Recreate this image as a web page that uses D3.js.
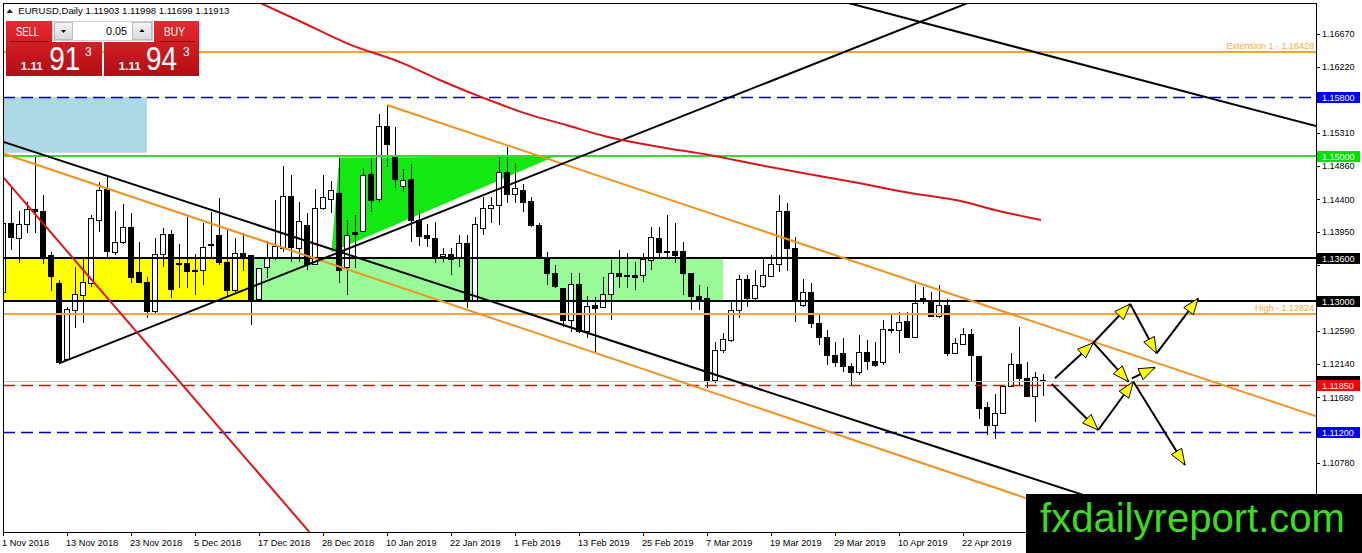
<!DOCTYPE html>
<html><head><meta charset="utf-8">
<script src="https://cdn.jsdelivr.net/npm/d3@7"></script>
<style>
html,body{margin:0;padding:0;background:#fff;overflow:hidden}
svg{display:block}
text{font-family:"Liberation Sans",Arial,sans-serif}
</style></head><body>
<svg id="c" width="1362" height="553"></svg>
<script>
// ---------- DATA ----------
const symbol = "EURUSD,Daily";
const open = [1.13118,1.14071,1.13865,1.14057,1.14263,1.14240,1.13627,1.13238,1.12204,1.12871,1.13077,1.13247,1.14116,1.14538,1.13673,1.13811,1.14016,1.13398,1.13261,1.12867,1.13646,1.13920,1.13499,1.13522,1.13430,1.13430,1.13760,1.13906,1.13536,1.13146,1.13660,1.13636,1.13032,1.13458,1.13591,1.13719,1.14446,1.13728,1.14048,1.13509,1.14277,1.14401,1.14483,1.13462,1.13942,1.13956,1.14748,1.14401,1.15407,1.14986,1.14583,1.14666,1.14116,1.13910,1.13865,1.13609,1.13646,1.13591,1.13797,1.13018,1.14002,1.14277,1.14322,1.14766,1.14460,1.14528,1.14368,1.14048,1.13591,1.13385,1.13179,1.12743,1.13234,1.12583,1.12936,1.12918,1.13087,1.13385,1.13348,1.13348,1.13348,1.13559,1.13865,1.13691,1.13691,1.13691,1.13385,1.13073,1.13041,1.11910,1.12322,1.12469,1.12871,1.13303,1.13041,1.13201,1.13338,1.13499,1.14240,1.13728,1.12949,1.13118,1.12698,1.12506,1.12263,1.12286,1.12103,1.12020,1.12294,1.12171,1.12162,1.12615,1.12596,1.12720,1.12500,1.13036,1.13018,1.12789,1.12949,1.12286,1.12414,1.12551,1.12249,1.11545,1.11302,1.11462,1.11837,1.12139,1.11943,1.11700,1.11903];
const high = [1.14230,1.14552,1.14240,1.14368,1.14986,1.14460,1.13682,1.13293,1.12926,1.13476,1.13613,1.14185,1.14642,1.14711,1.14244,1.14336,1.14208,1.13819,1.13338,1.13865,1.14002,1.13979,1.13787,1.14162,1.13650,1.14079,1.14230,1.14414,1.13979,1.13865,1.13942,1.13636,1.13458,1.13833,1.14391,1.14862,1.14734,1.14368,1.14208,1.14542,1.14734,1.14652,1.14964,1.14116,1.14185,1.14827,1.14964,1.15572,1.15686,1.15397,1.14817,1.14886,1.14254,1.14057,1.14093,1.13728,1.13728,1.13910,1.13910,1.14162,1.14436,1.14436,1.14986,1.15123,1.14895,1.14607,1.14436,1.14079,1.13682,1.13499,1.13179,1.13385,1.13394,1.13073,1.13064,1.13330,1.13568,1.13705,1.13660,1.13544,1.13660,1.14016,1.14025,1.14185,1.14071,1.13819,1.13385,1.13224,1.13192,1.12446,1.12569,1.12995,1.13362,1.13362,1.13430,1.13577,1.13636,1.14460,1.14354,1.13887,1.13303,1.13247,1.12844,1.12606,1.12446,1.12493,1.12149,1.12537,1.12469,1.12446,1.12743,1.12812,1.12858,1.12858,1.13238,1.13201,1.13132,1.13224,1.13027,1.12493,1.12629,1.12615,1.12249,1.11622,1.11727,1.11851,1.12286,1.12651,1.12171,1.12034,1.11998];
const low = [1.13087,1.13705,1.13522,1.13934,1.13934,1.13513,1.13146,1.12149,1.12195,1.12629,1.12698,1.13201,1.13956,1.13577,1.13636,1.13787,1.13256,1.13247,1.12767,1.12812,1.13476,1.13041,1.13179,1.13179,1.13087,1.13224,1.13613,1.13499,1.13063,1.13132,1.13421,1.12675,1.12995,1.13325,1.13568,1.13682,1.13544,1.13544,1.13430,1.13499,1.14254,1.14217,1.13247,1.13087,1.13454,1.13947,1.14222,1.14368,1.14849,1.14560,1.14497,1.13819,1.13764,1.13750,1.13522,1.13544,1.13362,1.13476,1.12904,1.13000,1.13910,1.14071,1.14048,1.14346,1.14346,1.14230,1.14025,1.13580,1.13224,1.13179,1.12651,1.12583,1.12570,1.12493,1.12309,1.12904,1.12743,1.13179,1.13179,1.13156,1.13270,1.13430,1.13613,1.13613,1.13522,1.13087,1.12881,1.12881,1.11806,1.11874,1.12286,1.12446,1.12767,1.12926,1.12995,1.13179,1.13330,1.13407,1.13421,1.12720,1.12918,1.12629,1.12401,1.12126,1.12103,1.12034,1.11837,1.11988,1.12057,1.12094,1.12126,1.12560,1.12286,1.12493,1.12490,1.12963,1.12780,1.12767,1.12249,1.12273,1.12401,1.11910,1.11380,1.11164,1.11105,1.11453,1.11828,1.11851,1.11691,1.11339,1.11699];
const close = [1.14071,1.13879,1.14057,1.14254,1.14230,1.13613,1.13338,1.12158,1.12881,1.13100,1.13256,1.14140,1.14515,1.13682,1.13811,1.14016,1.13330,1.13256,1.12867,1.13646,1.13920,1.13165,1.13522,1.13407,1.13412,1.13742,1.13787,1.13531,1.13146,1.13650,1.13605,1.13032,1.13454,1.13591,1.13750,1.14446,1.13737,1.14093,1.13499,1.14277,1.14423,1.14515,1.13430,1.13910,1.13920,1.14734,1.14391,1.15397,1.15147,1.14675,1.14656,1.14103,1.13887,1.13865,1.13591,1.13646,1.13581,1.13797,1.13018,1.14057,1.14277,1.14322,1.14766,1.14460,1.14552,1.14359,1.14038,1.13591,1.13385,1.13201,1.12734,1.13234,1.12583,1.12926,1.12904,1.13096,1.13385,1.13338,1.13338,1.13325,1.13568,1.13879,1.13668,1.13668,1.13627,1.13385,1.13064,1.13032,1.11896,1.12322,1.12478,1.12871,1.13303,1.13036,1.13224,1.13348,1.13499,1.14230,1.13728,1.13018,1.13118,1.12698,1.12506,1.12263,1.12158,1.12103,1.12020,1.12294,1.12171,1.12116,1.12615,1.12596,1.12712,1.12500,1.12973,1.13018,1.12789,1.12949,1.12277,1.12424,1.12551,1.12263,1.11531,1.11302,1.11462,1.11828,1.12139,1.11943,1.11700,1.11950,1.11913];
const askPrice = 1.11943;
const lotSize = "0.05";

const tickBars = [0,8,16,24,32,40,48,56,64,72,80,88,96,104,112,120];
const tickLabels = ["1 Nov 2018","13 Nov 2018","23 Nov 2018","5 Dec 2018","17 Dec 2018","28 Dec 2018","10 Jan 2019","22 Jan 2019","1 Feb 2019","13 Feb 2019","25 Feb 2019","7 Mar 2019","19 Mar 2019","29 Mar 2019","10 Apr 2019","22 Apr 2019"];
const priceTicks = [1.16670,1.16220,1.15760,1.15310,1.14860,1.14400,1.13950,1.13500,1.13040,1.12590,1.12140,1.11680,1.11230,1.10780,1.10320];

const levelPrices = [1.16428,1.15800,1.15000,1.13600,1.13000,1.12824,1.11850,1.11200];
const levelTexts = ["Extension 1 - 1.16428","","","","","High - 1.12824","",""];
const tagPrices = [1.15800,1.15000,1.13600,1.13000,1.11913,1.11850,1.11200];

const zoneBars = [[-3,18],[-3,31.3],[31.3,90]];
const zonePrices = [[1.15800,1.15040],[1.13600,1.13000],[1.13600,1.13000]];

const triangleBars = [42.04,41.06,69.1];
const trianglePrices = [1.14972,1.13677,1.14995];

const trendBars = [[0,130],[0,130],[48,164.125],[7,100],[105.8,164.125],[0,38]];
const trendPrices = [[1.15191,1.10522],[1.15032,1.10220],[1.15695,1.11423],[1.12149,1.16199],[1.17092,1.15407],[1.14707,1.09870]];

const maBars = [31.5,37.25,43,50,55.1,60.2,65.3,70.4,75.5,81.9,88.25,94.6,99.1,106.1,112.5,120.1,124,129.75];
const maPrices = [1.17130,1.16839,1.16542,1.16268,1.16015,1.15787,1.15581,1.15421,1.15260,1.15123,1.15009,1.14872,1.14780,1.14642,1.14505,1.14368,1.14254,1.14116];

const arrowFromBar = [131.5,136.3,140.9,144.2,136.3,141.1,131.1,136.9,141.3];
const arrowFromPrice = [1.11943,1.12432,1.12963,1.12286,1.12432,1.11943,1.11865,1.11233,1.11896];
const arrowToBar = [136.3,140.9,144.2,149.4,140.7,144.0,136.9,141.3,147.75];
const arrowToPrice = [1.12432,1.12963,1.12286,1.13041,1.11896,1.12094,1.11233,1.11896,1.10753];

const logoText = "fxdailyreport.com";

// ---------- LAYOUT ----------
const L=3,R=1316,T=3,B=532;
const LOGO={x:1026,y:494,w:336,h:59};
const x = d3.scaleLinear().domain([0,164.125]).range([L,R]);
const y = d3.scaleLinear().domain([1.09833,1.17096]).range([B,T]);
const svg = d3.select('#c');
const defs = svg.append('defs');
defs.append('clipPath').attr('id','plot').append('rect')
  .attr('x',L).attr('y',T).attr('width',R-L).attr('height',B-T);
const grad = defs.append('linearGradient').attr('id','red').attr('x1',0).attr('y1',0).attr('x2',0).attr('y2',1);
grad.append('stop').attr('offset','0%').attr('stop-color','#e52b31');
grad.append('stop').attr('offset','100%').attr('stop-color','#b10c12');
const bgrad = defs.append('linearGradient').attr('id','btn').attr('x1',0).attr('y1',0).attr('x2',0).attr('y2',1);
bgrad.append('stop').attr('offset','0%').attr('stop-color','#f4f4f4');
bgrad.append('stop').attr('offset','100%').attr('stop-color','#d9d9d9');

svg.append('rect').attr('width',1362).attr('height',553).attr('fill','#fff');
const g = svg.append('g').attr('clip-path','url(#plot)');

// zones
const zoneColors = ['#add8e6','#ffff00','#98fb98'];
g.selectAll('rect.zone').data(zoneBars).join('rect').attr('class','zone')
  .attr('x',d=>x(d[0])).attr('width',d=>x(d[1])-x(d[0]))
  .attr('y',(d,i)=>y(zonePrices[i][0]))
  .attr('height',(d,i)=>y(zonePrices[i][1])-y(zonePrices[i][0]))
  .attr('fill',(d,i)=>zoneColors[i]);

// triangle
g.append('polygon')
  .attr('points',triangleBars.map((b,i)=>x(b)+','+y(trianglePrices[i])).join(' '))
  .attr('fill','#12e812');

// candles
const idx = d3.range(open.length);
g.selectAll('line.wick').data(idx).join('line').attr('class','wick')
  .attr('x1',i=>x(i)).attr('x2',i=>x(i))
  .attr('y1',i=>y(high[i])).attr('y2',i=>y(low[i]))
  .attr('stroke','#000').attr('stroke-width',1).attr('shape-rendering','crispEdges');
g.selectAll('rect.body').data(idx).join('rect').attr('class','body')
  .attr('x',i=>x(i)-2.5).attr('width',5)
  .attr('y',i=>y(Math.max(open[i],close[i])))
  .attr('height',i=>Math.max(1,Math.abs(y(open[i])-y(close[i]))))
  .attr('fill',i=>close[i]>=open[i]?'#fff':'#000')
  .attr('stroke','#000').attr('stroke-width',1).attr('shape-rendering','crispEdges');

const cy = (p,w)=> w%2 ? Math.round(y(p))+0.5 : Math.round(y(p));

// bid line
const bid = close[close.length-1];
g.append('line').attr('x1',L).attr('x2',R)
  .attr('y1',cy(bid,1)).attr('y2',cy(bid,1))
  .attr('stroke','#c0c0c0').attr('stroke-width',1);

// horizontal levels
const levelColor = ['#f5a52c','#0000c8','#38d838','#000','#000','#f5a52c','#ee0000','#0000c8'];
const levelWidth = [2,1,2,2,2,2,1,1];
const levelDash = [null,'12,6',null,null,null,null,'12,6','12,6'];
g.selectAll('line.level').data(levelPrices).join('line').attr('class','level')
  .attr('x1',L).attr('x2',R).attr('y1',(d,i)=>cy(d,levelWidth[i])).attr('y2',(d,i)=>cy(d,levelWidth[i]))
  .attr('stroke',(d,i)=>levelColor[i]).attr('stroke-width',(d,i)=>levelWidth[i]===1?1.4:2)
  .attr('stroke-dasharray',(d,i)=>levelDash[i]);
g.selectAll('text.lvl').data(levelPrices.filter((d,i)=>levelTexts[i])).join('text').attr('class','lvl')
  .attr('x',R-2).attr('y',d=>y(d)-3).attr('text-anchor','end')
  .attr('font-size',9).attr('fill','#f2ac3c')
  .text(d=>levelTexts[levelPrices.indexOf(d)]);

// trend lines
const trendColor = ['#000','#f2921e','#f2921e','#000','#000','#d81818'];
const extendLeft = [true,true,false,false,true,true];
trendBars.forEach((tb,i)=>{
  const tp = trendPrices[i];
  const s = (tp[1]-tp[0])/(tb[1]-tb[0]);
  const b0 = extendLeft[i] ? -20 : tb[0];
  const b1 = 200;
  g.append('line')
    .attr('x1',x(b0)).attr('y1',y(tp[0]+s*(b0-tb[0])))
    .attr('x2',x(b1)).attr('y2',y(tp[0]+s*(b1-tb[0])))
    .attr('stroke',trendColor[i]).attr('stroke-width',2);
});

// moving average curve
g.append('path').datum(maBars.map((b,i)=>[b,maPrices[i]]))
  .attr('d',d3.line().x(d=>x(d[0])).y(d=>y(d[1])).curve(d3.curveMonotoneX))
  .attr('fill','none').attr('stroke','#d81818').attr('stroke-width',2);

// arrows
arrowFromBar.forEach((fb,i)=>{
  const x0=x(fb),y0=y(arrowFromPrice[i]),x1=x(arrowToBar[i]),y1=y(arrowToPrice[i]);
  g.append('line').attr('x1',x0).attr('y1',y0).attr('x2',x1).attr('y2',y1)
    .attr('stroke','#000').attr('stroke-width',2);
  const a=Math.atan2(y1-y0,x1-x0), len=16, hw=6;
  const bx=x1-len*Math.cos(a), by=y1-len*Math.sin(a);
  const px=-Math.sin(a)*hw, py=Math.cos(a)*hw;
  g.append('polygon')
    .attr('points',[[x1,y1],[bx+px,by+py],[bx-px,by-py]].map(p=>p.join(',')).join(' '))
    .attr('fill','#ffff00').attr('stroke','#000').attr('stroke-width',1);
});

// frame
svg.append('rect').attr('x',L+0.5).attr('y',T+0.5).attr('width',R-L).attr('height',B-T)
  .attr('fill','none').attr('stroke','#000').attr('stroke-width',1);

// right axis (labels hidden behind level tags or the logo are skipped)
const ax = svg.append('g');
const freeTicks = priceTicks.filter(p=>tagPrices.every(t=>Math.abs(y(t)-y(p))>9) && y(p)<LOGO.y-6);
ax.selectAll('line.pt').data(priceTicks).join('line').attr('class','pt')
  .attr('x1',R).attr('x2',R+4).attr('y1',d=>Math.round(y(d))+0.5).attr('y2',d=>Math.round(y(d))+0.5)
  .attr('stroke','#000');
ax.selectAll('text.pt').data(freeTicks).join('text').attr('class','pt')
  .attr('x',R+6).attr('y',d=>y(d)).attr('dy','0.35em')
  .attr('font-size',9).attr('fill','#000').text(d=>d.toFixed(5));

// level tags (bid tag sits under the 1.11850 tag)
const tagColor = ['#0000ff','#00e000','#000','#000','#000','#ff0000','#0000ff'];
tagPrices.forEach((p,i)=>{
  ax.append('rect').attr('x',R+1).attr('y',Math.round(y(p))-5).attr('width',43).attr('height',11)
    .attr('fill',tagColor[i]);
  if (p!==bid) ax.append('text').attr('x',R+6).attr('y',Math.round(y(p))+0.5).attr('dy','0.35em')
    .attr('font-size',9).attr('fill','#fff').text(p.toFixed(5));
});

// bottom axis
ax.selectAll('line.dt').data(tickBars).join('line').attr('class','dt')
  .attr('x1',d=>x(d)+0.5).attr('x2',d=>x(d)+0.5).attr('y1',B).attr('y2',B+4).attr('stroke','#000');
ax.selectAll('text.dt').data(tickBars).join('text').attr('class','dt')
  .attr('x',d=>x(d)-1).attr('y',546).attr('font-size',9.2).attr('fill','#000')
  .text((d,i)=>tickLabels[i]);

// logo
svg.append('rect').attr('x',LOGO.x).attr('y',LOGO.y).attr('width',LOGO.w).attr('height',LOGO.h).attr('fill','#000');
svg.append('text').attr('x',1040).attr('y',532).attr('font-size',40).attr('fill','#3cdc1e')
  .attr('textLength',305).attr('lengthAdjust','spacingAndGlyphs').text(logoText);

// trade panel
const pn = svg.append('g');
pn.append('path').attr('d','M6,21H52V42H102V76H6Z').attr('fill','url(#red)');
pn.append('path').attr('d','M154,21H199V76H104V42H154Z').attr('fill','url(#red)');
pn.append('line').attr('x1',10).attr('x2',48).attr('y1',41.5).attr('y2',41.5).attr('stroke','#8e0a0e');
pn.append('line').attr('x1',157).attr('x2',195).attr('y1',41.5).attr('y2',41.5).attr('stroke','#8e0a0e');
pn.append('rect').attr('x',52.5).attr('y',21.5).attr('width',100).attr('height',19).attr('fill','#fff').attr('stroke','#cfcfcf');
pn.append('rect').attr('x',54.5).attr('y',22.5).attr('width',18).attr('height',17).attr('fill','url(#btn)').attr('stroke','#bdbdbd');
pn.append('rect').attr('x',132.5).attr('y',22.5).attr('width',19).attr('height',17).attr('fill','url(#btn)').attr('stroke','#bdbdbd');
pn.append('polygon').attr('points','61,30 66,30 63.5,33').attr('fill','#000');
pn.append('polygon').attr('points','139.5,32 144.5,32 142,29').attr('fill','#000');
pn.append('text').attr('x',127).attr('y',35).attr('text-anchor','end').attr('font-size',11.5)
  .attr('textLength',21).attr('lengthAdjust','spacingAndGlyphs').attr('fill','#000').text(lotSize);
pn.append('text').attr('x',16).attr('y',36).attr('font-size',13.5).attr('fill','#fff')
  .attr('textLength',23).attr('lengthAdjust','spacingAndGlyphs').text('SELL');
pn.append('text').attr('x',164).attr('y',36).attr('font-size',13.5).attr('fill','#fff')
  .attr('textLength',21).attr('lengthAdjust','spacingAndGlyphs').text('BUY');
function priceParts(p){const s=p.toFixed(5);return [s.slice(0,4),s.slice(4,6),s.slice(6)];}
[[bid,20.7,49.3,85],[askPrice,118.7,146,183]].forEach(([p,x1,x2,x3])=>{
  const pp = priceParts(p);
  pn.append('text').attr('x',x1).attr('y',69.5).attr('font-size',11.5).attr('font-weight','bold')
    .attr('fill','#fff').attr('textLength',22).attr('lengthAdjust','spacingAndGlyphs').text(pp[0]);
  pn.append('text').attr('x',x2).attr('y',70).attr('font-size',33).attr('fill','#fff')
    .attr('textLength',31).attr('lengthAdjust','spacingAndGlyphs').text(pp[1]);
  pn.append('text').attr('x',x3).attr('y',55.5).attr('font-size',12).attr('fill','#fff').text(pp[2]);
});

// header
svg.append('polygon').attr('points','6.5,13 9.7,9 13,13').attr('fill','#222');
svg.append('text').attr('x',18.3).attr('y',14).attr('font-size',9.6).attr('fill','#000')
  .text(symbol+'  '+[open,high,low,close].map(a=>a[a.length-1].toFixed(5)).join(' '));
</script>
</body></html>
